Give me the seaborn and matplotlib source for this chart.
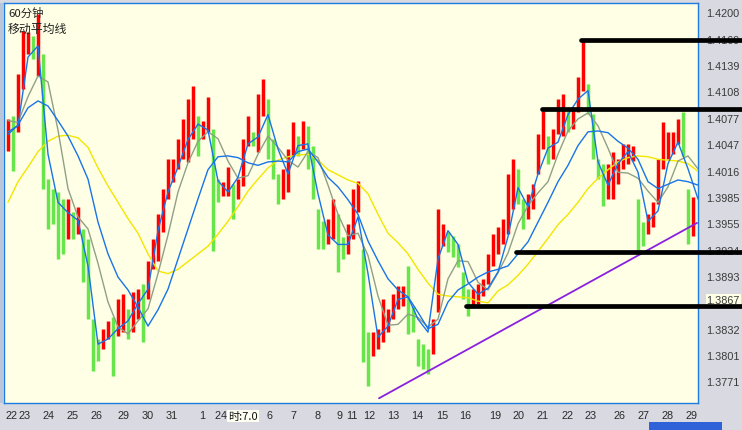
import numpy as np
import pandas as pd
import matplotlib
matplotlib.use("Agg")
import matplotlib.pyplot as plt
from matplotlib.patches import Rectangle
import seaborn as sns

sns.set_theme(style="white")
plt.rcParams['font.family'] = ['Liberation Sans', 'Noto Sans CJK SC']

# ---------------- data (hourly chart, one slot = 5 hours) ----------------
bar_high = [1.4076,1.4079,1.4128,1.4178,1.4177,1.4173,1.4198,1.4152,1.4006,1.3995,
            1.3991,1.3983,1.3983,1.3968,1.3974,1.3948,1.3936,1.3843,1.3820,1.3832,
            1.3841,1.3845,1.3866,1.3872,1.3855,1.3875,1.3878,1.3884,1.3911,1.3936,
            1.3965,1.3995,1.4029,1.4029,1.4053,1.4076,1.4099,1.4114,1.4079,1.4074,
            1.4102,1.4064,1.4006,1.4003,1.4020,1.4000,1.4006,1.4053,1.4079,1.4061,
            1.4105,1.4122,1.4099,1.4053,1.4012,1.4018,1.4041,1.4072,1.4056,1.4074,
            1.4068,1.4045,1.3971,1.3957,1.3960,1.3983,1.3965,1.3939,1.3954,1.3995,
            1.4004,1.3925,1.3828,1.3828,1.3832,1.3866,1.3855,1.3872,1.3882,1.3882,
            1.3905,1.3858,1.3820,1.3814,1.3808,1.3843,1.3971,1.3954,1.3944,1.3940,
            1.3930,1.3898,1.3878,1.3878,1.3884,1.3890,1.3919,1.3942,1.3950,1.3960,
            1.4012,1.4029,1.4018,1.3983,1.3989,1.4000,1.4058,1.4085,1.4056,1.4064,
            1.4099,1.4105,1.4088,1.4088,1.4125,1.4169,1.4117,1.4082,1.4029,1.4024,
            1.4024,1.4038,1.4029,1.4047,1.4047,1.4045,1.3983,1.3956,1.3965,1.3979,
            1.4029,1.4072,1.4061,1.4061,1.4076,1.4084,1.3995,1.3985]
bar_low = [1.4039,1.4015,1.4061,1.4111,1.4152,1.4146,1.4126,1.3995,1.3948,1.3954,
           1.3913,1.3919,1.3936,1.3936,1.3942,1.3886,1.3843,1.3783,1.3794,1.3808,
           1.3820,1.3777,1.3823,1.3828,1.3820,1.3828,1.3843,1.3816,1.3866,1.3901,
           1.3911,1.3944,1.3983,1.4003,1.4018,1.4029,1.4026,1.4053,1.4033,1.4053,
           1.4061,1.3922,1.3979,1.3986,1.3986,1.3960,1.3983,1.3998,1.4045,1.4045,
           1.4038,1.4079,1.4029,1.4006,1.3977,1.3983,1.3991,1.4033,1.4033,1.4041,
           1.4018,1.3983,1.3925,1.3925,1.3930,1.3936,1.3898,1.3913,1.3919,1.3936,
           1.3968,1.3793,1.3765,1.3800,1.3808,1.3816,1.3828,1.3843,1.3855,1.3858,
           1.3826,1.3828,1.3788,1.3785,1.3779,1.3802,1.3851,1.3928,1.3921,1.3915,
           1.3904,1.3866,1.3847,1.3857,1.3861,1.3870,1.3884,1.3905,1.3919,1.3930,
           1.3942,1.3971,1.3977,1.3948,1.3960,1.3971,1.4012,1.4041,1.4024,1.4029,
           1.4058,1.4056,1.4061,1.4064,1.4084,1.4109,1.4082,1.4029,1.4006,1.3975,
           1.3983,1.3983,1.4000,1.4018,1.4024,1.4027,1.3918,1.3928,1.3942,1.3950,
           1.3977,1.4018,1.4029,1.4035,1.4047,1.4033,1.3930,1.3940]

# moving averages sampled every 10 hours
ma_yellow = [1.3979,1.4003,1.4020,1.4038,1.4050,1.4056,1.4057,1.4054,1.4043,1.4019,
             1.3998,1.3979,1.3960,1.3943,1.3919,1.3899,1.3896,1.3901,1.3910,1.3919,
             1.3928,1.3942,1.3957,1.3974,1.3992,1.4006,1.4019,1.4028,1.4032,1.4034,
             1.4035,1.4028,1.4017,1.4011,1.4005,1.4001,1.3989,1.3965,1.3943,1.3932,
             1.3919,1.3901,1.3885,1.3872,1.3870,1.3869,1.3868,1.3864,1.3862,1.3876,
             1.3883,1.3894,1.3907,1.3922,1.3937,1.3953,1.3965,1.3979,1.3995,1.4007,
             1.4017,1.4026,1.4031,1.4033,1.4032,1.4029,1.4028,1.4027,1.4024,1.4015]
ma_gray = [1.4074,1.4072,1.4102,1.4126,1.4119,1.4063,1.3995,1.3962,1.3948,1.3908,
           1.3863,1.3834,1.3826,1.3841,1.3855,1.3896,1.3941,1.3991,1.4025,1.4050,
           1.4061,1.4053,1.4027,1.4007,1.4010,1.4035,1.4056,1.4043,1.4028,1.4020,
           1.4038,1.4031,1.3999,1.3965,1.3940,1.3943,1.3917,1.3870,1.3836,1.3837,
           1.3849,1.3845,1.3834,1.3843,1.3890,1.3911,1.3910,1.3886,1.3877,1.3897,
           1.3920,1.3954,1.3975,1.3990,1.4003,1.4035,1.4062,1.4076,1.4083,1.4068,
           1.4042,1.4014,1.4013,1.4007,1.3992,1.3979,1.3997,1.4027,1.4033,1.4018]
ma_fast = [1.4061,1.4068,1.4148,1.4161,1.4035,1.3979,1.3967,1.3958,1.3905,1.3814,
           1.3820,1.3832,1.3841,1.3861,1.3878,1.3946,1.3991,1.4020,1.4052,1.4070,
           1.4063,1.4004,1.3991,1.4008,1.4047,1.4055,1.4081,1.4041,1.4012,1.4045,
           1.4047,1.3989,1.3941,1.3930,1.3930,1.3962,1.3896,1.3822,1.3835,1.3866,
           1.3869,1.3843,1.3828,1.3913,1.3946,1.3930,1.3886,1.3872,1.3879,1.3898,
           1.3939,1.3996,1.3974,1.4012,1.4042,1.4049,1.4081,1.4099,1.4109,1.4026,
           1.3999,1.4024,1.4038,1.4014,1.3957,1.3969,1.4024,1.4049,1.4018,1.3983]
ma_slow = [1.4058,1.4069,1.4089,1.4097,1.4091,1.4074,1.4056,1.4033,1.4006,1.3956,
           1.3919,1.3892,1.3877,1.3857,1.3835,1.3854,1.3878,1.3913,1.3948,1.3983,
           1.4017,1.4032,1.4033,1.4031,1.4025,1.4022,1.4026,1.4027,1.4026,1.4038,
           1.4041,1.4026,1.4008,1.3997,1.3982,1.3965,1.3934,1.3911,1.3890,1.3877,
           1.3869,1.3851,1.3832,1.3837,1.3863,1.3877,1.3884,1.3892,1.3898,1.3901,
           1.3905,1.3919,1.3933,1.3956,1.3979,1.4003,1.4022,1.4045,1.4061,1.4062,
           1.4060,1.4050,1.4042,1.4029,1.4003,1.3995,1.4000,1.4005,1.4003,1.3999]

level_values = [1.4168, 1.4087, 1.3921, 1.3858]
level_start_hours = [577, 538, 512, 462]
trend_hours = [375, 693]
trend_values = [1.3751, 1.3955]

ytick_values = [1.4200, 1.4169, 1.4139, 1.4108, 1.4077, 1.4047, 1.4016, 1.3985,
                1.3955, 1.3924, 1.3893, 1.3867, 1.3832, 1.3801, 1.3771]
xtick_hours = [8, 21, 45, 69, 93, 120, 144, 168, 198, 214, 220, 266, 290, 314, 336,
               348, 365, 389, 413, 438, 461, 491, 515, 539, 564, 587, 616, 640, 664, 688]
xtick_labels = ["22", "23", "24", "25", "26", "29", "30", "31", "1", "2", "4", "6", "7",
                "8", "9", "11", "12", "13", "14", "15", "16", "19", "20", "21", "22",
                "23", "26", "27", "28", "29"]

# ---------------- figure ----------------
W, H = 742, 431
fig = plt.figure(figsize=(W / 100, H / 100), dpi=100)
fig.patch.set_facecolor('#D9D9E2')
ax = fig.add_axes([4 / W, 27 / H, 694 / W, 400 / H])
ax.set_facecolor('#FFFFE6')

# price bars
hi = np.array(bar_high)
lo = np.array(bar_low)
mid = (hi + lo) / 2
up = np.r_[True, mid[1:] >= mid[:-1]]
bar_x = 4 + 5 * np.arange(len(hi))
ax.vlines(bar_x[up], lo[up], hi[up], colors='#FF0000', linewidth=2.5, zorder=2)
ax.vlines(bar_x[~up], lo[~up], hi[~up], colors='#66E64A', linewidth=2.5, zorder=2)

# moving averages via seaborn
ma_x = 4 + 10 * np.arange(len(ma_fast))
frames = []
for name, vals in [("yellow", ma_yellow), ("gray", ma_gray), ("slow", ma_slow), ("fast", ma_fast)]:
    frames.append(pd.DataFrame({"hour": ma_x, "price": vals, "series": name}))
df = pd.concat(frames, ignore_index=True)
pal = {"yellow": "#F2E600", "gray": "#8FA086", "slow": "#1874E8", "fast": "#1874E8"}
sns.lineplot(data=df, x="hour", y="price", hue="series", palette=pal, linewidth=1.0,
             legend=False, sort=False, estimator=None, ax=ax, zorder=3)

# trend line
ax.plot(trend_hours, trend_values, color='#8A20E0', linewidth=1.3, zorder=4)

# horizontal black levels extending into the price scale
for v, s in zip(level_values, level_start_hours):
    ax.plot([s, 740], [v, v], color='black', linewidth=3.4, solid_capstyle='round',
            clip_on=False, zorder=6)

ax.set_xlim(0, 694)
ax.set_ylim(1.37455, 1.42109)
ax.set_xlabel("")
ax.set_ylabel("")

ax.yaxis.tick_right()
ax.set_yticks(ytick_values)
ax.set_yticklabels([f"{v:.4f}" for v in ytick_values])
ax.tick_params(axis='y', length=0, pad=6.2, labelsize=7.8, labelcolor='#3A3A3A')
for lbl in ax.get_yticklabels():
    if lbl.get_text() == "1.3867":
        lbl.set_bbox(dict(facecolor='#FFFFE6', edgecolor='none', pad=0.6))

ax.set_xticks(xtick_hours)
ax.set_xticklabels(xtick_labels)
ax.tick_params(axis='x', length=0, pad=5, labelsize=7.8, labelcolor='#2A2A2A')

for sp in ax.spines.values():
    sp.set_color('#1C7CE0')
    sp.set_linewidth(1.0)
    sp.set_visible(True)

# title text
fig.text(8 / W, 1 - 13 / H, "60分钟", fontsize=8.2, va='center', ha='left',
         family=['Noto Sans CJK SC', 'DejaVu Sans'], color='#222222')
fig.text(8 / W, 1 - 29 / H, "移动平均线", fontsize=8.6, va='center', ha='left',
         family=['Noto Sans CJK SC', 'DejaVu Sans'], color='#222222')

# cursor readout box on time scale
fig.text(228 / W, 1 - 417 / H, "时:7.0", fontsize=8.0, va='center', ha='left',
         family=['Noto Sans CJK SC', 'DejaVu Sans'], color='#111111',
         bbox=dict(facecolor='#FFFFF4', edgecolor='none', pad=1.0))

# left strip and scrollbar
fig.patches.append(Rectangle((0, 27 / H), 3 / W, 400 / H, transform=fig.transFigure,
                             facecolor='#B9C6DA', edgecolor='none'))
fig.patches.append(Rectangle((649 / W, 0), 73 / W, 8 / H, transform=fig.transFigure,
                             facecolor='#2F62D8', edgecolor='none'))

fig.savefig("out.png", dpi=100, facecolor=fig.get_facecolor())
